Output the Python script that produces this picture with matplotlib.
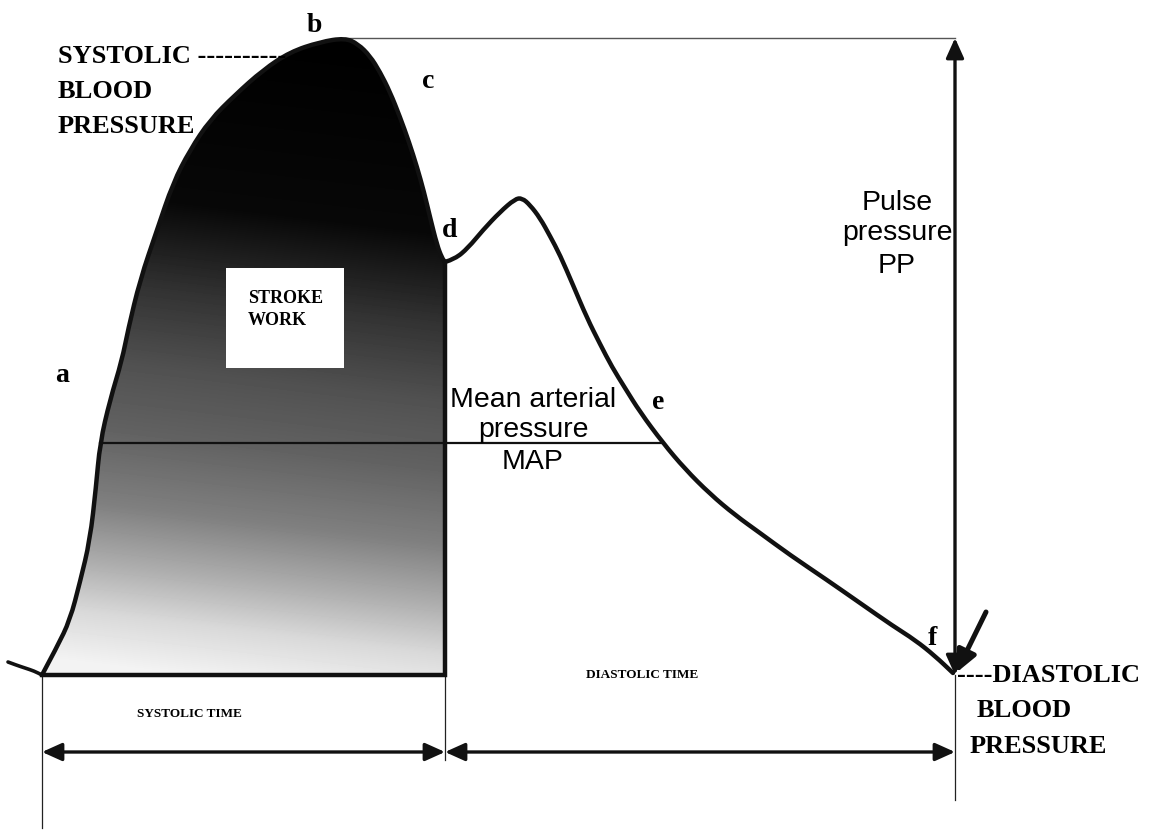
import numpy as np
import matplotlib
matplotlib.use('Agg')
import matplotlib.pyplot as plt
from matplotlib.patches import PathPatch, Rectangle
from matplotlib.path import Path

# arterial pressure waveform
# x = time, y = pressure (image units, y grows downwards)
tail_x = [8, 16, 25, 34, 42]
tail_y = [662, 665, 668, 671, 675]

rise_x = [42, 57, 70, 80, 90, 96, 100, 110, 122, 128, 140, 157, 173, 190, 210, 235, 263, 290, 320, 345]
rise_y = [675, 647, 620, 582, 540, 487, 443, 400, 360, 330, 280, 230, 183, 150, 120, 95, 70, 52, 42, 38]

fall_x = [345, 358, 370, 380, 390, 400, 409, 417, 424, 430, 437, 442, 445]
fall_y = [38, 44, 56, 72, 92, 117, 142, 167, 192, 217, 245, 258, 262]

dia_x = [445, 455, 468, 483, 500, 515, 522, 530, 540, 550, 560, 573, 587, 600, 612, 625,
         640, 663, 685, 710, 735, 760, 790, 827, 860, 893, 915, 935, 953]
dia_y = [262, 259, 248, 230, 212, 199, 198, 205, 218, 236, 255, 285, 318, 344, 367, 388,
         412, 443, 469, 494, 515, 533, 555, 580, 603, 626, 640, 656, 673]

# key levels / times
t_start, t_notch, t_end = 42, 445, 955
p_sys, p_map, p_dia = 38, 443, 675
map_x = [100, 663]
time_arrow_y = 752

point_labels = ['a', 'b', 'c', 'd', 'e', 'f']
point_label_x = [55, 307, 422, 442, 652, 928]
point_label_y = [382, 32, 88, 237, 409, 645]

# grey levels of the stroke-work shading (0 black .. 1 white) vs height
shade_y = [30, 210, 300, 380, 443, 520, 580, 630, 680]
shade_v = [0.0, 0.03, 0.2, 0.32, 0.38, 0.5, 0.68, 0.85, 0.95]


def smooth_path(xs, ys, close_with=None):
    # quadratic bezier through the midpoints, traced points used as controls
    pts = list(zip(xs, ys))
    verts = [pts[0]]
    codes = [Path.MOVETO]
    for i in range(1, len(pts) - 1):
        mid = ((pts[i][0] + pts[i + 1][0]) / 2, (pts[i][1] + pts[i + 1][1]) / 2)
        verts += [pts[i], mid]
        codes += [Path.CURVE3, Path.CURVE3]
    verts.append(pts[-1])
    codes.append(Path.LINETO)
    if close_with:
        for p in close_with:
            verts.append(p)
            codes.append(Path.LINETO)
        verts.append(pts[0])
        codes.append(Path.CLOSEPOLY)
    return Path(verts, codes)


fig = plt.figure(figsize=(11.6, 8.32), dpi=100)
ax = fig.add_axes([0, 0, 1, 1])

serif = dict(family='Liberation Serif', weight='bold', color='black')
sans = dict(family='Liberation Sans', color='black')

# shaded stroke-work area
sys_x = rise_x + fall_x[1:]
sys_y = rise_y + fall_y[1:]
clip = PathPatch(smooth_path(sys_x, sys_y, close_with=[(t_notch, p_dia), (t_start, p_dia)]),
                 transform=ax.transData, facecolor='none', edgecolor='none')
ax.add_patch(clip)
gx, gy = np.meshgrid(np.arange(30, 460), np.arange(30, 690))
yeff = gy - 0.12 * (gx - 240)
img = np.interp(yeff, shade_y, shade_v)
im = ax.imshow(img, cmap='gray', vmin=0, vmax=1, extent=(30, 460, 690, 30),
               interpolation='bilinear', zorder=1, aspect='auto')
im.set_clip_path(clip)
ax.set_xlim(0, 1160)
ax.set_ylim(832, 0)
ax.axis('off')

# waveform
ax.add_patch(PathPatch(smooth_path(tail_x, tail_y), facecolor='none', edgecolor='#111111',
                       lw=2.6, capstyle='round', zorder=3))
ax.add_patch(PathPatch(smooth_path(sys_x, sys_y), facecolor='none', edgecolor='#111111',
                       lw=3.2, capstyle='round', joinstyle='round', zorder=3))
ax.add_patch(PathPatch(smooth_path(dia_x, dia_y), facecolor='none', edgecolor='#111111',
                       lw=3.2, capstyle='round', joinstyle='round', zorder=3))
ax.plot([t_start, t_notch, t_notch], [p_dia, p_dia, fall_y[-1]], color='#111111', lw=3.2,
        solid_joinstyle='miter', zorder=3)

# MAP line
ax.plot(map_x, [p_map, p_map], color='#111111', lw=1.6, zorder=3)

# systolic level line
ax.plot([rise_x[-1], t_end], [p_sys, p_sys], color='#555555', lw=1.0, zorder=2)

# time markers
ax.plot([t_start, t_start], [p_dia, 828], color='#222222', lw=0.9)
ax.plot([t_notch, t_notch], [p_dia, 760], color='#222222', lw=0.9)
ax.plot([t_end, t_end], [p_dia, 800], color='#222222', lw=0.9)

arr = dict(arrowstyle='<|-|>,head_length=1.0,head_width=0.45', lw=2.4, color='#111111',
           shrinkA=0, shrinkB=0, mutation_scale=12)
ax.annotate('', xy=(t_start, time_arrow_y), xytext=(t_notch, time_arrow_y), arrowprops=arr)
ax.annotate('', xy=(t_notch, time_arrow_y), xytext=(t_end, time_arrow_y), arrowprops=arr)

# pulse pressure arrow
ax.annotate('', xy=(t_end, p_sys), xytext=(t_end, p_dia), arrowprops=arr)

# diastolic pointer
ax.annotate('', xy=(956, 673), xytext=(986, 612),
            arrowprops=dict(arrowstyle='-|>,head_length=1.1,head_width=0.5', lw=3.6,
                            color='#111111', shrinkA=0, shrinkB=0, mutation_scale=12))

# stroke work box
ax.add_patch(Rectangle((226, 268), 118, 100, facecolor='white', edgecolor='none', zorder=4))
ax.text(248, 303, 'STROKE', fontsize=13, va='baseline', zorder=5, **serif)
ax.text(248, 325, 'WORK', fontsize=13, va='baseline', zorder=5, **serif)

# point labels
for lab, lx, ly in zip(point_labels, point_label_x, point_label_y):
    ax.text(lx, ly, lab, fontsize=20, va='baseline', **serif)

# blood pressure labels
ax.text(58, 63, 'SYSTOLIC ----------', fontsize=19, va='baseline', **serif)
ax.text(58, 98, 'BLOOD', fontsize=19, va='baseline', **serif)
ax.text(58, 133, 'PRESSURE', fontsize=19, va='baseline', **serif)

ax.text(957, 682, '----DIASTOLIC', fontsize=19, va='baseline', **serif)
ax.text(977, 717, 'BLOOD', fontsize=19, va='baseline', **serif)
ax.text(970, 753, 'PRESSURE', fontsize=19, va='baseline', **serif)

# sans labels
for txt, yb in zip(['Mean arterial', 'pressure', 'MAP'], [407, 437, 469]):
    ax.text(533, yb, txt, fontsize=20.5, ha='center', va='baseline', **sans)
for txt, yb in zip(['Pulse', 'pressure', 'PP'], [210, 240, 273]):
    ax.text(897, yb, txt, fontsize=20.5, ha='center', va='baseline', **sans)

ax.text(189, 717, 'SYSTOLIC TIME', fontsize=9.5, ha='center', va='baseline', **serif)
ax.text(642, 678, 'DIASTOLIC TIME', fontsize=9.5, ha='center', va='baseline', **serif)

fig.savefig('out.png', dpi=100, facecolor='white')
